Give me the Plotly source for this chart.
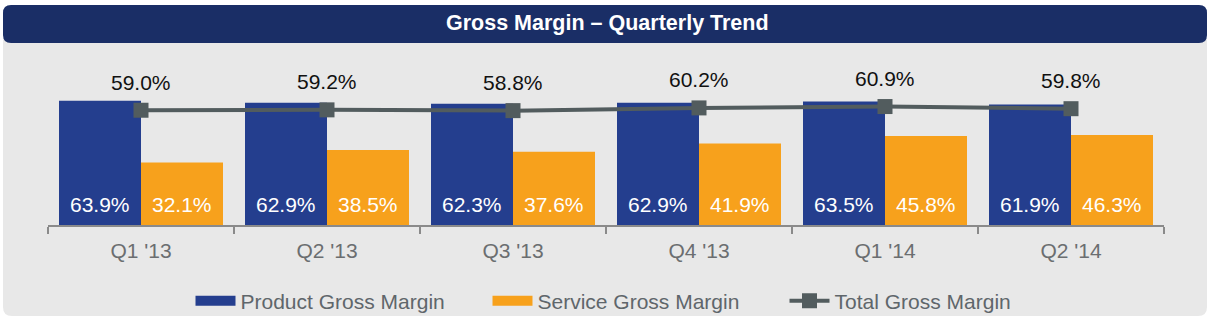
import plotly.graph_objects as go

quarters = ["Q1 '13", "Q2 '13", "Q3 '13", "Q4 '13", "Q1 '14", "Q2 '14"]
product = [63.9, 62.9, 62.3, 62.9, 63.5, 61.9]
service = [32.1, 38.5, 37.6, 41.9, 45.8, 46.3]
total = [59.0, 59.2, 58.8, 60.2, 60.9, 59.8]

C_PROD = "#243E8E"
C_SERV = "#F7A11C"
C_TOT = "#525C5E"
FONT = "Liberation Sans, Arial, sans-serif"

W, H = 1211, 325
PL, PR, PT, PB = 48, 1164, 93, 225  # plot area in pixels


def px(x):
    return (x - PL) / (PR - PL)


def py(y):
    return (PB - y) / (PB - PT)


def rrect(x0, y0, x1, y1, r, top=True, bottom=True):
    X0, X1, Y0, Y1 = px(x0), px(x1), py(y0), py(y1)
    rx = r / (PR - PL)
    ry = r / (PB - PT)
    s = ""
    if top:
        s += f"M{X0},{Y0 - ry} Q{X0},{Y0} {X0 + rx},{Y0} L{X1 - rx},{Y0} Q{X1},{Y0} {X1},{Y0 - ry} "
    else:
        s += f"M{X0},{Y0} L{X1},{Y0} "
    if bottom:
        s += f"L{X1},{Y1 + ry} Q{X1},{Y1} {X1 - rx},{Y1} L{X0 + rx},{Y1} Q{X0},{Y1} {X0},{Y1 + ry} Z"
    else:
        s += f"L{X1},{Y1} L{X0},{Y1} Z"
    return s


fig = go.Figure()
fig.add_trace(go.Bar(x=quarters, y=product, marker=dict(color=C_PROD, line=dict(width=0)),
                     showlegend=False, hoverinfo="skip"))
fig.add_trace(go.Bar(x=quarters, y=service, marker=dict(color=C_SERV, line=dict(width=0)),
                     showlegend=False, hoverinfo="skip"))
# legend proxies
fig.add_trace(go.Scatter(x=[None], y=[None], mode="lines", name="Product Gross Margin",
                         line=dict(color=C_PROD, width=12)))
fig.add_trace(go.Scatter(x=[None], y=[None], mode="lines", name="Service Gross Margin",
                         line=dict(color=C_SERV, width=12)))
fig.add_trace(go.Scatter(x=quarters, y=total, mode="lines+markers", name="Total Gross Margin",
                         line=dict(color=C_TOT, width=4),
                         marker=dict(symbol="square", size=15, color=C_TOT)))

ann = []
for q, p, s, t in zip(quarters, product, service, total):
    ann.append(dict(x=q, y=0, xref="x", yref="y", text=f"{p:.1f}%", showarrow=False,
                    xshift=-41, yshift=21, yanchor="middle",
                    font=dict(color="white", size=21, family=FONT)))
    ann.append(dict(x=q, y=0, xref="x", yref="y", text=f"{s:.1f}%", showarrow=False,
                    xshift=41, yshift=21, yanchor="middle",
                    font=dict(color="white", size=21, family=FONT)))
    ann.append(dict(x=q, y=t, xref="x", yref="y", text=f"{t:.1f}%", showarrow=False,
                    yshift=28, yanchor="middle",
                    font=dict(color="#111111", size=21, family=FONT)))

ann.append(dict(x=px(607), y=py(23), xref="paper", yref="paper", showarrow=False,
                xanchor="center", yanchor="middle",
                text="<b>Gross Margin – Quarterly Trend</b>",
                font=dict(color="white", size=21.5, family=FONT)))

shapes = [
    dict(type="path", xref="paper", yref="paper", layer="below",
         path=rrect(3, 40, 1207, 316, 9, top=False, bottom=True),
         fillcolor="#E8E8E8", line=dict(width=0)),
    dict(type="path", xref="paper", yref="paper", layer="below",
         path=rrect(3, 5, 1207, 43, 8),
         fillcolor="#1A2E66", line=dict(width=0)),
]

fig.update_layout(
    width=W, height=H,
    margin=dict(l=PL, r=W - PR, t=PT, b=H - PB, pad=0, autoexpand=False),
    paper_bgcolor="white", plot_bgcolor="rgba(0,0,0,0)",
    barmode="group", bargap=22 / 186, bargroupgap=0,
    font=dict(family=FONT),
    annotations=ann, shapes=shapes,
    showlegend=True,
    legend=dict(orientation="h", x=px(636), xanchor="center", y=py(301), yanchor="middle",
                font=dict(size=21, color="#5F666B", family=FONT),
                bgcolor="rgba(0,0,0,0)", itemwidth=40, tracegroupgap=0,
                entrywidth=242, entrywidthmode="pixels"),
    xaxis=dict(showline=True, linecolor="#8A8A8A", linewidth=1.5, ticks="outside",
               tickson="boundaries", ticklen=7, tickcolor="#8A8A8A", tickwidth=1.5,
               tickfont=dict(size=21, color="#6B6E70", family=FONT),
               ticklabelstandoff=6, showgrid=False, zeroline=False, fixedrange=True),
    yaxis=dict(range=[0, (PB - PT) / 1.945], visible=False, showgrid=False,
               zeroline=False, fixedrange=True),
)

fig.write_html("out.html")
